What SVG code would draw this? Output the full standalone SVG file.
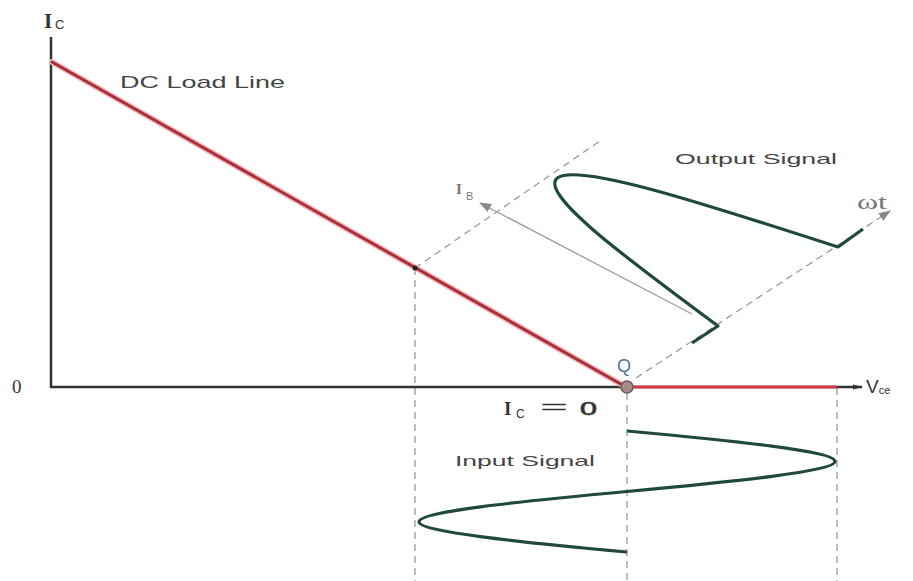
<svg xmlns="http://www.w3.org/2000/svg" width="913" height="581" viewBox="0 0 913 581">
<style>
.axis{stroke:#333;stroke-width:2.5;fill:none}
.dash{stroke:#9a9a9a;stroke-width:1.3;stroke-dasharray:7 5;fill:none}
.halo{stroke:#f4b8bd;stroke-width:6;fill:none;stroke-linecap:round}
.red{stroke:#a8303a;stroke-width:3;fill:none;stroke-linecap:round}
.red2{stroke:#d23a48;stroke-width:3.2;fill:none}
.sig{stroke:#1f4a38;stroke-width:3.2;fill:none;stroke-linejoin:round;stroke-linecap:butt}
.thin{stroke:#a0a0a0;stroke-width:1.4;fill:none}
.lbl{font-family:"Liberation Sans",Arial,sans-serif;fill:#444}
.ser{font-family:"Liberation Serif","Times New Roman",serif;font-weight:bold}
.sub{font-family:"Liberation Sans",Arial,sans-serif;font-weight:normal}
</style>
<defs>
<marker id="ah" markerWidth="12" markerHeight="9" refX="11" refY="4.5" orient="auto" markerUnits="userSpaceOnUse">
<path d="M0,0 L12,4.5 L0,9 Z" fill="#888"/>
</marker>
<marker id="ax" markerWidth="10" markerHeight="6" refX="9" refY="3" orient="auto" markerUnits="userSpaceOnUse">
<path d="M0,0.5 L10,3 L0,5.5 Z" fill="#333"/>
</marker>
</defs>
<rect width="913" height="581" fill="#fff"/>
<g id="connectors">
<line class="dash" x1="415" y1="268" x2="415" y2="581"/>
<line class="dash" x1="627" y1="393" x2="627" y2="581"/>
<line class="dash" x1="837" y1="388" x2="837" y2="581"/>
<line class="dash" x1="415" y1="268" x2="600" y2="141"/>
<line class="dash" x1="636" y1="378" x2="890" y2="211" marker-end="url(#ah)"/>
<line class="thin" x1="692" y1="314" x2="480" y2="203" marker-end="url(#ah)"/>
</g>
<g id="axes">
<line class="axis" x1="51" y1="37" x2="51" y2="388"/>
<line class="axis" x1="50" y1="387" x2="862" y2="387" marker-end="url(#ax)"/>
</g>
<g id="load-line">
<line class="halo" x1="52" y1="62" x2="626" y2="387"/>
<line class="red" x1="52" y1="62" x2="626" y2="387"/>
<line class="red2" x1="627" y1="387" x2="837" y2="387"/>
<circle cx="415" cy="268" r="2.5" fill="#222"/>
</g>
<g id="q-point">
<circle cx="627" cy="387" r="6" fill="#a88a8a" stroke="#6e5a5a" stroke-width="1.5"/>
<text x="617" y="372" font-family="Liberation Sans,Arial,sans-serif" font-size="18" fill="#4f7890">Q</text>
</g>
<g id="output-signal">
<path class="sig" d="M692,343 L718,326 C670.4,290.88 623.17,255.94 592.44,229.18 C561.71,202.42 548,184.08 558,177.5 C568,170.92 601.71,176.09 652.44,189.68 C703.17,203.27 770.4,225.05 838,247 L863,229"/>
<text class="lbl" x="675" y="164" font-size="15" textLength="162" lengthAdjust="spacingAndGlyphs">Output Signal</text>
</g>
<g id="input-signal">
<path class="sig" d="M627,431 C735.9,441.08 835,451.17 835,461.25 C835,471.33 735.9,481.42 627,491.5 C518.1,501.58 419,511.67 419,521.75 C419,531.83 518.1,541.92 627,552"/>
<text class="lbl" x="455" y="466" font-size="15" textLength="140" lengthAdjust="spacingAndGlyphs">Input Signal</text>
</g>
<g id="labels">
<text x="44" y="28" class="ser" font-size="21" fill="#333">I</text>
<text x="55" y="29" class="sub" font-size="13" fill="#333">C</text>
<text class="lbl" x="120" y="88" font-size="17" textLength="165" lengthAdjust="spacingAndGlyphs">DC Load Line</text>
<text x="12" y="393" font-family="Liberation Serif,serif" font-size="19" fill="#333">0</text>
<text x="866" y="393" font-family="Liberation Sans,Arial,sans-serif" font-size="19" fill="#333">V<tspan font-size="11" dy="1">ce</tspan></text>
<text x="504" y="415" class="ser" font-size="19" fill="#333">I</text>
<text x="516" y="418" class="sub" font-size="12" fill="#333">C</text>
<text x="540" y="414" font-family="Liberation Sans,Arial,sans-serif" font-size="20" fill="#333" textLength="28" lengthAdjust="spacingAndGlyphs">=</text>
<text x="580" y="415" font-family="Liberation Sans,Arial,sans-serif" font-size="18" fill="#333" stroke="#333" stroke-width="0.6" textLength="17" lengthAdjust="spacingAndGlyphs">0</text>
<text x="456" y="194" class="ser" font-size="15" fill="#777">I</text>
<text x="466" y="200" class="sub" font-size="11" fill="#777">B</text>
<text x="857" y="209" font-family="Liberation Serif,serif" font-size="20" fill="#777" textLength="30" lengthAdjust="spacingAndGlyphs">ωt</text>
</g>
</svg>
